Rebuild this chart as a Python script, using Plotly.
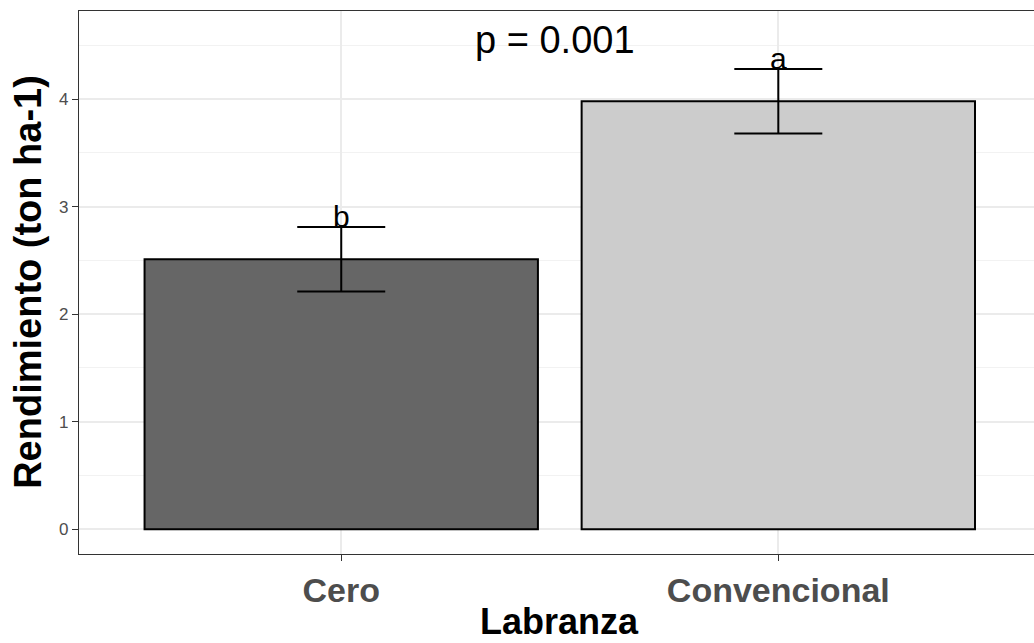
import plotly.graph_objects as go

categories = ["Cero", "Convencional"]
means = [2.51, 3.98]
se = [0.30, 0.30]
letters = ["b", "a"]
bar_colors = ["#666666", "#CCCCCC"]
p_label = "p = 0.001"
y_ticks = [0, 1, 2, 3, 4]

FONT = "Liberation Sans, Arial, sans-serif"

fig = go.Figure()
fig.add_trace(go.Bar(
    x=categories, y=means, width=0.9,
    marker=dict(color=bar_colors, line=dict(color="black", width=2)),
    error_y=dict(type="data", array=se, visible=True, color="black", thickness=2, width=44),
    showlegend=False,
))

for c, m, s, l in zip(categories, means, se, letters):
    fig.add_annotation(x=c, y=m + s, text=l, showarrow=False, xanchor="center", yanchor="bottom",
                       yshift=-8, font=dict(family=FONT, size=30, color="black"))

fig.add_annotation(x=0.49, y=4.55, xref="x", yref="y", text=p_label, showarrow=False,
                   xanchor="center", yanchor="middle", font=dict(family=FONT, size=38, color="black"))

fig.add_annotation(x=0.503, y=-0.124, xref="paper", yref="paper", text="Labranza", showarrow=False,
                   xanchor="center", yanchor="middle",
                   font=dict(family=FONT, size=36, color="black", weight="bold"))
fig.add_annotation(x=-0.0535, y=0.501, xref="paper", yref="paper", text="Rendimiento (ton ha-1)",
                   showarrow=False, textangle=-90, xanchor="center", yanchor="middle",
                   font=dict(family=FONT, size=38, color="black", weight="bold"))

fig.update_xaxes(
    type="category", range=[-0.6, 1.585],
    showline=True, linecolor="#333333", linewidth=1.2, mirror=True,
    ticks="outside", ticklen=6, tickcolor="#333333", tickwidth=1.2,
    showgrid=True, gridcolor="#EBEBEB", gridwidth=1.5,
    tickfont=dict(family=FONT, size=34, color="#4D4D4D", weight="bold"),
    zeroline=False,
)
fig.update_yaxes(
    range=[-0.229, 4.818], tickvals=y_ticks,
    showline=True, linecolor="#333333", linewidth=1.2, mirror=False,
    ticks="outside", ticklen=6, tickcolor="#333333", tickwidth=1.2,
    showgrid=True, gridcolor="#EBEBEB", gridwidth=1.5,
    minor=dict(dtick=0.5, tick0=0, showgrid=True, gridcolor="#F2F2F2", gridwidth=0.8, ticks=""),
    tickfont=dict(family=FONT, size=17, color="#4D4D4D"),
    zeroline=False,
)

fig.update_layout(
    width=1034, height=643,
    margin=dict(l=79, r=0, t=11, b=89),
    plot_bgcolor="white", paper_bgcolor="white",
    bargap=0.1,
)

fig.write_html("out.html", config={"displayModeBar": False},
               post_script="document.body.style.margin='0';document.body.style.overflow='hidden';")
